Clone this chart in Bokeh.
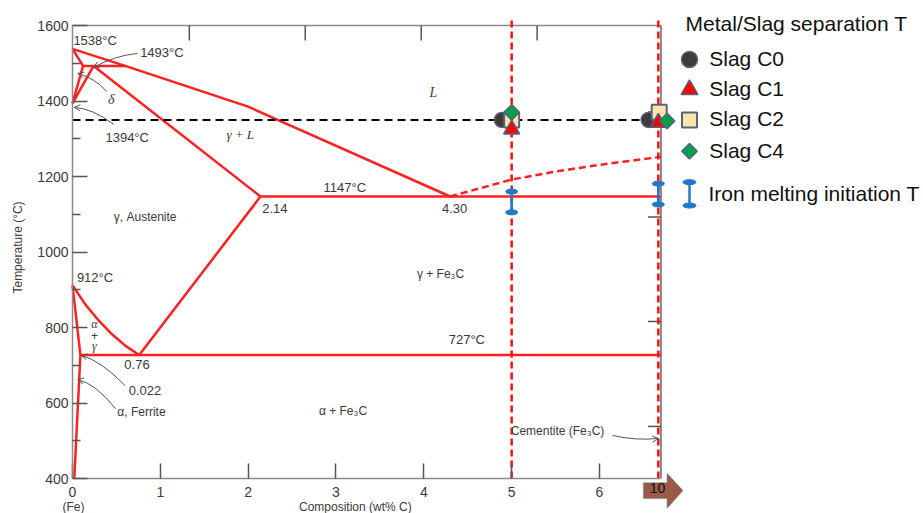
import math
from bokeh.plotting import figure
from bokeh.models import Range1d, FixedTicker, Label, Arrow, OpenHead, PolyAnnotation
from bokeh.embed import file_html
from bokeh.resources import INLINE

# ---------------- data (composition wt% C, temperature degC) ----------------
liquidus_x = [0.0, 0.6, 2.0, 4.30]
liquidus_T = [1538, 1493, 1385, 1147]
liquidus_ext_x = [4.30, 5.0, 5.5, 6.0, 6.4, 6.7]
liquidus_ext_T = [1147, 1192, 1213, 1231, 1243, 1252]
delta_solidus_x = [0.0, 0.12]
delta_solidus_T = [1538, 1493]
peritectic_x = [0.12, 0.6]
peritectic_T = [1493, 1493]
delta_solvus_x = [0.12, 0.0]
delta_solvus_T = [1493, 1394]
gamma_delta_x = [0.24, 0.0]
gamma_delta_T = [1493, 1394]
gamma_solidus_x = [0.24, 2.14]
gamma_solidus_T = [1493, 1147]
eutectic_x = [2.14, 6.7]
eutectic_T = [1147, 1147]
acm_x = [2.14, 0.76]
acm_T = [1147, 727]
a3_x = [0.0, 0.15, 0.30, 0.45, 0.60, 0.76]
a3_T = [912, 860, 818, 782, 752, 727]
eutectoid_x = [0.09, 6.7]
eutectoid_T = [727, 727]
alpha_x = [0.0, 0.09, 0.02]
alpha_T = [912, 727, 400]

# experiment guides
guide_x = [5.0, 6.67]
sep_guide_x = [0.0, 6.75]
sep_guide_T = [1350, 1350]

# Metal/Slag separation temperatures
c0_x = [4.89, 6.56]
c0_T = [1350, 1350]
c1_x = [5.0, 6.67]
c1_T = [1325, 1343]
c2_x = [5.0, 6.68]
c2_T = [1350, 1370]
c4_x = [5.0, 6.77]
c4_T = [1370, 1347]

# Iron melting initiation temperature
iron_x = [5.0, 6.67]
iron_low = [1105, 1126]
iron_high = [1160, 1181]

# axes
x_ticks = [0, 1, 2, 3, 4, 5, 6]
y_ticks = [400, 600, 800, 1000, 1200, 1400, 1600]
y_minor = [500, 700, 900, 1100, 1300, 1500]
top_ticks = [1.33, 2.65, 3.97, 5.29]
right_ticks = [538, 816, 1093, 1371]
x_min_comp, x_max_comp = 0.0, 6.7
T_min, T_max = 400, 1600

# ---------------- figure ----------------
W, H = 923, 513
PX_X = 87.83      # px per wt% C
PX_T = 0.3775     # px per degC
X0_PX, TOP_PX = 72, 25
x_range = Range1d(-X0_PX / PX_X, (W - X0_PX) / PX_X)
y_range = Range1d(T_max - (H - TOP_PX) / PX_T, T_max + TOP_PX / PX_T)

p = figure(width=W, height=H, x_range=x_range, y_range=y_range,
           output_backend="svg", toolbar_location=None,
           min_border_left=0, min_border_right=0, min_border_top=0, min_border_bottom=0)
p.outline_line_color = None
p.xgrid.visible = False
p.ygrid.visible = False
p.background_fill_color = "white"
p.border_fill_color = "white"

SANS = "Liberation Sans"
SERIF = "Liberation Serif"
AX = "#8a8a8a"
TICK = "#555555"
TXT = "#3a3a3a"

xa = p.xaxis[0]
xa.fixed_location = T_min
xa.ticker = FixedTicker(ticks=x_ticks)
xa.bounds = (x_min_comp, x_max_comp)
xa.major_tick_in = 15
xa.major_tick_out = 0
xa.minor_tick_line_color = None
xa.axis_line_color = AX
xa.axis_line_width = 1.5
xa.major_tick_line_color = TICK
xa.major_tick_line_width = 1.5
xa.major_label_text_font = SANS
xa.major_label_text_font_size = "14px"
xa.major_label_text_color = TXT
xa.major_label_standoff = 8

ya = p.yaxis[0]
ya.fixed_location = x_min_comp
ya.ticker = FixedTicker(ticks=y_ticks, minor_ticks=y_minor)
ya.bounds = (T_min, T_max)
ya.major_tick_in = 15
ya.major_tick_out = 0
ya.minor_tick_in = 8
ya.minor_tick_out = 0
ya.axis_line_color = AX
ya.axis_line_width = 1.5
ya.major_tick_line_color = TICK
ya.minor_tick_line_color = TICK
ya.major_tick_line_width = 1.5
ya.minor_tick_line_width = 1.5
ya.major_label_text_font = SANS
ya.major_label_text_font_size = "14px"
ya.major_label_text_color = TXT
ya.major_label_standoff = 4

# frame of the diagram: top and right borders with their ticks
p.segment(x0=[x_min_comp], y0=[T_max], x1=[x_max_comp], y1=[T_max], line_color=AX, line_width=1.5)
p.segment(x0=[x_max_comp], y0=[T_min], x1=[x_max_comp], y1=[T_max], line_color="#666666", line_width=1.5)
p.segment(x0=top_ticks, y0=[T_max] * len(top_ticks), x1=top_ticks,
          y1=[T_max - 15 / PX_T] * len(top_ticks), line_color=TICK, line_width=1.5)
p.segment(x0=[x_max_comp - 13 / PX_X] * len(right_ticks), y0=right_ticks,
          x1=[x_max_comp] * len(right_ticks), y1=right_ticks, line_color=TICK, line_width=1.5)

# ---------------- phase boundaries ----------------
RED = "#ff2020"
for xs, ts in [(liquidus_x, liquidus_T), (delta_solidus_x, delta_solidus_T),
               (peritectic_x, peritectic_T), (delta_solvus_x, delta_solvus_T),
               (gamma_delta_x, gamma_delta_T), (gamma_solidus_x, gamma_solidus_T),
               (eutectic_x, eutectic_T), (acm_x, acm_T), (a3_x, a3_T),
               (eutectoid_x, eutectoid_T), (alpha_x, alpha_T)]:
    p.line(xs, ts, line_color=RED, line_width=2.5, line_join="round")
p.line(liquidus_ext_x, liquidus_ext_T, line_color=RED, line_width=2.5, line_dash="7 4")

# guides
p.segment(x0=guide_x, y0=[T_min] * len(guide_x), x1=guide_x, y1=[T_max + 18] * len(guide_x),
          line_color="#ff1010", line_width=2.5, line_dash="7 4")
p.line(sep_guide_x, sep_guide_T, line_color="black", line_width=2, line_dash="8 5")

# ---------------- leader arrows ----------------
GREY = "#555555"
leaders = [  # (x0, T0, cx, cT, x1, T1)
    (0.74, 1526, 0.49, 1521, 0.24, 1489),
    (0.39, 1425, 0.26, 1460, 0.06, 1473),
    (0.47, 1338, 0.23, 1380, 0.02, 1383),
    (0.60, 646, 0.32, 713, 0.10, 726),
    (0.49, 585, 0.26, 652, 0.06, 662),
    (6.15, 514, 6.41, 500, 6.67, 506),
]
for x0, y0, cx, cy, x1, y1 in leaders:
    p.quadratic(x0=[x0], y0=[y0], cx=[cx], cy=[cy], x1=[x1], y1=[y1],
                line_color=GREY, line_width=1)
    p.add_layout(Arrow(end=OpenHead(size=6, line_color=GREY, line_width=1),
                       x_start=cx, y_start=cy, x_end=x1, y_end=y1, line_alpha=0))

# ---------------- measurements ----------------
BLUE = "#1f78c8"
OUT = "#56627e"
DIAMOND = math.pi / 4
p.segment(x0=iron_x, y0=iron_low, x1=iron_x, y1=iron_high, line_color=BLUE, line_width=2.5)
p.ellipse(x=iron_x + iron_x, y=iron_low + iron_high, width=12, height=5,
          width_units="screen", height_units="screen", fill_color=BLUE, line_color=BLUE)

p.scatter(c0_x, c0_T, marker="circle", size=15, fill_color="#403a3a", line_color=OUT, line_width=1.5)
p.scatter(c2_x, c2_T, marker="square", size=15, fill_color="#ffe5a8", line_color=OUT, line_width=2)
p.scatter(c1_x, c1_T, marker="triangle", size=16, fill_color="#ff0000", line_color=OUT, line_width=1.5)
p.scatter(c4_x, c4_T, marker="square", angle=DIAMOND, size=11, fill_color="#00a04c",
          line_color=OUT, line_width=1.5)

# ---------------- legend ----------------
leg_x = 7.025
leg_rows = [1510, 1430, 1350, 1267]
leg_text_x = 7.25
p.scatter([leg_x], [leg_rows[0]], marker="circle", size=16, fill_color="#403a3a", line_color=OUT, line_width=1.5)
p.scatter([leg_x], [leg_rows[1]], marker="triangle", size=17, fill_color="#ff0000", line_color=OUT, line_width=1.5)
p.scatter([leg_x], [leg_rows[2]], marker="square", size=15, fill_color="#ffe5a8", line_color=OUT, line_width=2)
p.scatter([leg_x], [leg_rows[3]], marker="square", angle=DIAMOND, size=11, fill_color="#00a04c",
          line_color=OUT, line_width=1.5)
p.segment(x0=[leg_x], y0=[1123], x1=[leg_x], y1=[1185], line_color=BLUE, line_width=2.5)
p.ellipse(x=[leg_x, leg_x], y=[1123, 1185], width=13, height=5, width_units="screen",
          height_units="screen", fill_color=BLUE, line_color=BLUE)

def lab(text, x, y, size="13px", align="left", font=SANS, style="normal", color=TXT, angle=0.0):
    p.add_layout(Label(x=x, y=y, text=text, text_font=font, text_font_size=size,
                       text_align=align, text_baseline="middle", text_color=color,
                       text_font_style=style, angle=angle))

LEG = "#111111"
lab("Metal/Slag separation T", 6.98, 1604, size="21px", color=LEG)
for t, yy in zip(["Slag C0", "Slag C1", "Slag C2", "Slag C4"], [1512, 1432, 1353, 1269]):
    lab(t, leg_text_x, yy, size="21px", color=LEG)
lab("Iron melting initiation T", leg_text_x - 0.01, 1154, size="21px", color=LEG)

# ---------------- diagram texts ----------------
lab("1538°C", 0.01, 1560)
lab("1493°C", 0.77, 1528)
lab("δ", 0.44, 1404, size="14px", align="center", font=SERIF, style="italic")
lab("1394°C", 0.375, 1303)
lab("L", 4.11, 1423, size="14px", align="center", font=SERIF, style="italic")
lab("γ + L", 1.91, 1311, size="13px", align="center", font=SERIF, style="italic")
lab("1147°C", 3.1, 1171, align="center")
lab("2.14", 2.16, 1115)
lab("4.30", 4.35, 1115, align="center")
lab("γ, Austenite", 0.47, 1094, size="12px")
lab("912°C", 0.05, 933)
lab("γ + Fe₃C", 4.19, 943, size="12px", align="center")
lab("α", 0.25, 808, size="12px", align="center", font=SERIF, style="italic")
lab("+", 0.25, 779, size="12px", align="center")
lab("γ", 0.25, 750, size="12px", align="center", font=SERIF, style="italic")
lab("727°C", 4.49, 768, align="center")
lab("0.76", 0.59, 702)
lab("0.022", 0.64, 633)
lab("α, Ferrite", 0.51, 577, size="12px")
lab("α + Fe₃C", 3.08, 580, size="12px", align="center")
lab("Cementite (Fe₃C)", 4.99, 527, size="12px")
lab("(Fe)", 0.01, 324, size="12px", align="center")
lab("Composition (wt% C)", 3.22, 324, size="12px", align="center")
lab("Temperature (°C)", -0.626, 1012, size="12px", align="center", angle=math.pi / 2)

# "10" arrow marker at the end of the composition axis
p.add_layout(PolyAnnotation(xs=[6.50, 6.77, 6.77, 6.95, 6.77, 6.77, 6.50],
                            ys=[389, 389, 413, 368, 321, 347, 347],
                            fill_color="#9a5a47", fill_alpha=1.0,
                            line_color="#5b6a85", line_width=1.5))
lab("10", 6.66, 376, size="14px", align="center", color="#111111")

open("out.html", "w").write(file_html(p, INLINE))
